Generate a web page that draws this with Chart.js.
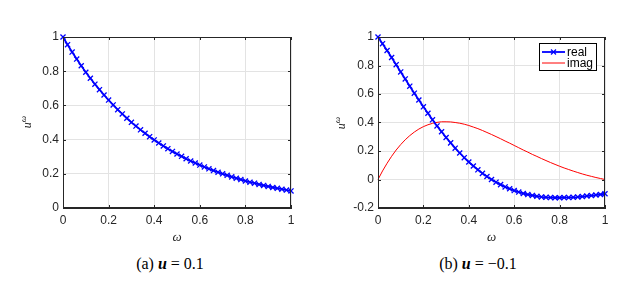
<!DOCTYPE html>
<html>
<head>
<meta charset="utf-8">
<script src="https://cdn.jsdelivr.net/npm/chart.js@4.4.1/dist/chart.umd.min.js"></script>
<style>
  body { margin: 0; background: #fff; }
  #wrap { position: relative; width: 640px; height: 294px; overflow: hidden; }
  canvas { position: absolute; top: 0; }
  .ylab { position: absolute; font: italic 12px "Liberation Serif"; color: #262626;
          transform: translate(-50%, -50%) rotate(-90deg); white-space: nowrap; }
  .ylab sup { font-size: 9px; }
  .cap { position: absolute; top: 256px; width: 200px; text-align: center;
         font: 16px/16px "Liberation Serif"; color: #000; }
</style>
</head>
<body>
<div id="wrap">
  <canvas id="chartA" width="320" height="250" style="left:0"></canvas>
  <canvas id="chartB" width="320" height="250" style="left:320px"></canvas>
  <div class="ylab" style="left:26px; top:122px"><i>u</i><sup>ω</sup></div>
  <div class="ylab" style="left:340px; top:123px"><i>u</i><sup>ω</sup></div>
  <div class="cap" style="left:70px">(a) <b><i>u</i></b> = 0.1</div>
  <div class="cap" style="left:378px">(b) <b><i>u</i></b> = −0.1</div>
</div>
<script>
// omega grid, shared by both panels
const omega = [0, 0.02, 0.04, 0.06, 0.08, 0.10, 0.12, 0.14, 0.16, 0.18, 0.20,
  0.22, 0.24, 0.26, 0.28, 0.30, 0.32, 0.34, 0.36, 0.38, 0.40,
  0.42, 0.44, 0.46, 0.48, 0.50, 0.52, 0.54, 0.56, 0.58, 0.60,
  0.62, 0.64, 0.66, 0.68, 0.70, 0.72, 0.74, 0.76, 0.78, 0.80,
  0.82, 0.84, 0.86, 0.88, 0.90, 0.92, 0.94, 0.96, 0.98, 1.00];

// (a) u = 0.1
const uPosReal = [1.000, 0.955, 0.912, 0.871, 0.832, 0.794, 0.759, 0.724, 0.692, 0.661, 0.631,
  0.603, 0.575, 0.550, 0.525, 0.501, 0.479, 0.457, 0.437, 0.417, 0.398,
  0.380, 0.363, 0.347, 0.331, 0.316, 0.302, 0.288, 0.275, 0.263, 0.251,
  0.240, 0.229, 0.219, 0.209, 0.200, 0.191, 0.182, 0.174, 0.166, 0.158,
  0.151, 0.145, 0.138, 0.132, 0.126, 0.120, 0.115, 0.110, 0.105, 0.100];

// (b) u = -0.1
const uNegReal = [1.000, 0.953, 0.905, 0.856, 0.806, 0.755, 0.706, 0.655, 0.606, 0.558, 0.510,
  0.465, 0.419, 0.376, 0.335, 0.295, 0.257, 0.220, 0.186, 0.153, 0.123,
  0.095, 0.068, 0.043, 0.021, 0.000, -0.019, -0.036, -0.052, -0.065, -0.078,
  -0.088, -0.098, -0.106, -0.112, -0.118, -0.122, -0.125, -0.127, -0.128, -0.128,
  -0.127, -0.127, -0.125, -0.123, -0.120, -0.116, -0.113, -0.109, -0.105, -0.100];
const uNegImag = [0.000, 0.060, 0.114, 0.163, 0.207, 0.245, 0.279, 0.308, 0.333, 0.354, 0.371,
  0.384, 0.394, 0.401, 0.405, 0.405, 0.404, 0.400, 0.395, 0.388, 0.379,
  0.368, 0.357, 0.344, 0.330, 0.316, 0.301, 0.286, 0.270, 0.255, 0.239,
  0.223, 0.207, 0.192, 0.176, 0.162, 0.147, 0.133, 0.119, 0.106, 0.093,
  0.081, 0.070, 0.059, 0.049, 0.039, 0.030, 0.022, 0.014, 0.007, 0.000];

const xTicks = [0, 0.2, 0.4, 0.6, 0.8, 1];
const yTicksA = [0, 0.2, 0.4, 0.6, 0.8, 1];
const yTicksB = [-0.2, 0, 0.2, 0.4, 0.6, 0.8, 1];

const seriesLabels = ['real', 'imag'];

const axisColor = '#262626';
const gridColor = '#e3e3e3';
const tickFont = { family: 'Liberation Sans', size: 12 };

function pts(ys) {
  return omega.map((x, i) => ({ x: x, y: ys[i] }));
}

function fmt(v) {
  return String(+v.toFixed(1));
}

// full box around the axes with inward tick marks
const boxPlugin = {
  id: 'box',
  afterDraw(chart) {
    const { ctx, chartArea: a, scales } = chart;
    ctx.save();
    ctx.strokeStyle = axisColor;
    ctx.lineWidth = 1;
    ctx.strokeRect(Math.round(a.left) + 0.5, Math.round(a.top) + 0.5,
      Math.round(a.right - a.left) - 1, Math.round(a.bottom - a.top) - 1);
    ctx.beginPath();
    scales.x.ticks.forEach(t => {
      const px = Math.round(scales.x.getPixelForValue(t.value)) + 0.5;
      ctx.moveTo(px, a.bottom); ctx.lineTo(px, a.bottom - 3);
      ctx.moveTo(px, a.top); ctx.lineTo(px, a.top + 3);
    });
    scales.y.ticks.forEach(t => {
      const py = Math.round(scales.y.getPixelForValue(t.value)) + 0.5;
      ctx.moveTo(a.left, py); ctx.lineTo(a.left + 3, py);
      ctx.moveTo(a.right, py); ctx.lineTo(a.right - 3, py);
    });
    ctx.stroke();
    ctx.restore();
  }
};

// matlab style legend box in the upper right corner
const boxLegend = {
  id: 'boxLegend',
  afterDraw(chart, args, opts) {
    if (!opts.show) return;
    const { ctx, chartArea: a } = chart;
    const left = a.right - 66, top = a.top + 6, w = 58, h = 28;
    ctx.save();
    ctx.fillStyle = '#fff';
    ctx.fillRect(left, top, w, h);
    ctx.strokeStyle = '#000';
    ctx.lineWidth = 1;
    ctx.strokeRect(left + 0.5, top + 0.5, w - 1, h - 1);
    ctx.font = '12px "Liberation Sans"';
    ctx.textBaseline = 'middle';
    chart.data.datasets.forEach((ds, i) => {
      const y = top + 9 + i * 11;
      ctx.strokeStyle = ds.borderColor;
      ctx.lineWidth = ds.borderWidth;
      ctx.beginPath();
      ctx.moveTo(left + 3, y); ctx.lineTo(left + 26, y);
      ctx.stroke();
      if (ds.pointRadius > 0) {
        const cx = left + 14.5, r = 2.5;
        ctx.lineWidth = 1.2;
        ctx.beginPath();
        ctx.moveTo(cx - r, y - r); ctx.lineTo(cx + r, y + r);
        ctx.moveTo(cx - r, y + r); ctx.lineTo(cx + r, y - r);
        ctx.stroke();
      }
      ctx.fillStyle = '#000';
      ctx.fillText(ds.label, left + 28, y + 0.5);
    });
    ctx.restore();
  }
};

function makeChart(id, datasets, yTicks, yWidth, padRight, showLegend) {
  const ctx = document.getElementById(id).getContext('2d');
  return new Chart(ctx, {
    type: 'scatter',
    data: { datasets: datasets },
    options: {
      responsive: false,
      animation: false,
      layout: { padding: { left: 0, right: padRight, top: 37, bottom: 0 } },
      plugins: {
        legend: { display: false },
        tooltip: { enabled: false },
        boxLegend: { show: showLegend }
      },
      scales: {
        x: {
          type: 'linear',
          min: 0, max: 1,
          afterFit: s => { s.height = 42; },
          afterBuildTicks: s => { s.ticks = xTicks.map(v => ({ value: v })); },
          grid: { color: gridColor, drawTicks: false },
          border: { color: axisColor },
          ticks: { font: tickFont, color: axisColor, padding: 5, callback: fmt },
          title: {
            display: true, text: 'ω', color: axisColor,
            font: { family: 'Liberation Serif', size: 13, style: 'italic' },
            padding: { top: 0, bottom: 5 }
          }
        },
        y: {
          type: 'linear',
          min: yTicks[0], max: yTicks[yTicks.length - 1],
          afterFit: s => { s.width = yWidth; },
          afterBuildTicks: s => { s.ticks = yTicks.map(v => ({ value: v })); },
          grid: { color: gridColor, drawTicks: false },
          border: { color: axisColor },
          ticks: { font: tickFont, color: axisColor, padding: 4, callback: fmt }
        }
      }
    },
    plugins: [boxPlugin, boxLegend]
  });
}

const realStyle = {
  borderColor: '#0000ff', backgroundColor: '#0000ff', borderWidth: 1.8,
  showLine: true, pointStyle: 'crossRot', pointRadius: 3.6, pointBorderWidth: 1.3,
  clip: 5
};

makeChart('chartA', [
  Object.assign({ label: seriesLabels[0], data: pts(uPosReal) }, realStyle)
], yTicksA, 63, 29, false);

makeChart('chartB', [
  Object.assign({ label: seriesLabels[0], data: pts(uNegReal) }, realStyle),
  {
    label: seriesLabels[1], data: pts(uNegImag),
    borderColor: '#ff0000', backgroundColor: '#ff0000', borderWidth: 1,
    showLine: true, pointRadius: 0, clip: 5
  }
], yTicksB, 58, 35, true);
</script>
</body>
</html>
